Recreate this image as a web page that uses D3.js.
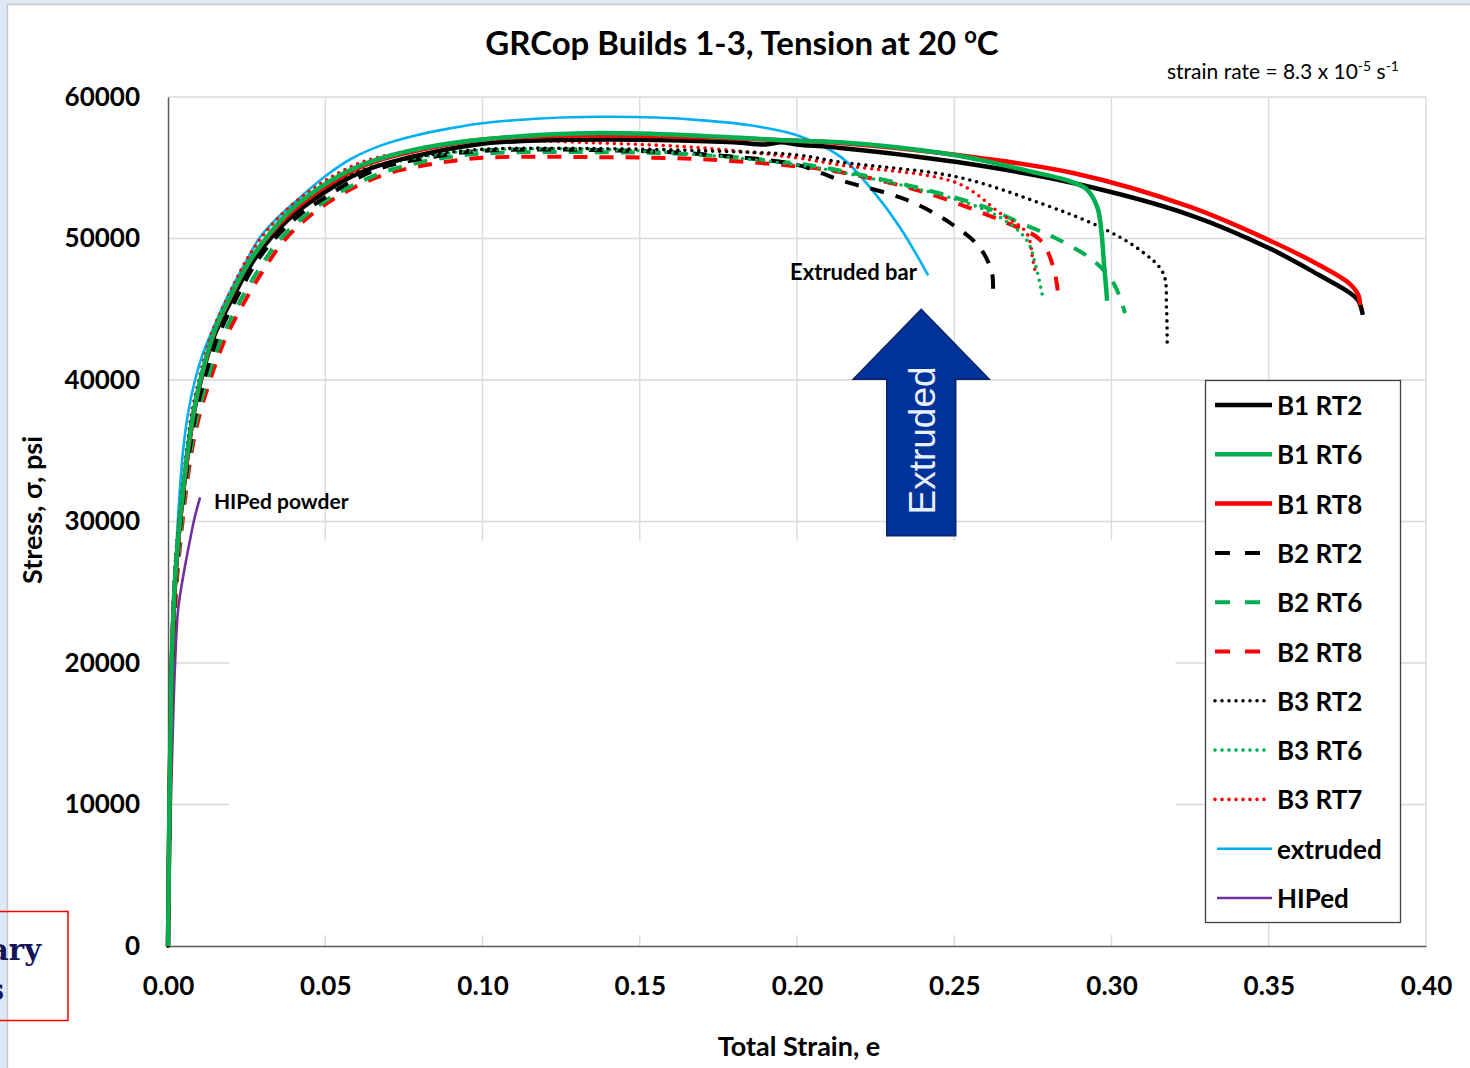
<!DOCTYPE html>
<html>
<head>
<meta charset="utf-8">
<script src="https://cdn.jsdelivr.net/npm/d3@7"></script>
<style>
  body { margin: 0; background: #dde9f5; }
  svg { display: block; }
  text { font-family: Lato, "Open Sans", sans-serif; }
</style>
</head>
<body>
<div class="chart"></div>
<script>
// strain (in/in) , stress (psi)
const b1rt2 = [[0,0],[0.0011,19000],[0.0022,25500],[0.0034,29000],[0.0064,35000],[0.0083,37800],[0.0105,40000],[0.0127,41800],[0.015,43300],[0.021,46000],[0.0265,48200],[0.0325,50000],[0.04,51700],[0.048,53000],[0.056,54100],[0.065,55000],[0.082,56000],[0.1,56700],[0.12,56950],[0.14,57000],[0.16,56950],[0.18,56800],[0.19,56650],[0.195,56800],[0.2,56650],[0.2137,56400],[0.2509,55400],[0.2878,53920],[0.325,51660],[0.35,49330],[0.366,47420],[0.3755,46200],[0.3785,45600],[0.3799,44600]];
const b1rt6 = [[0,0],[0.0011,19300],[0.0022,25800],[0.0034,29200],[0.0063,35100],[0.0082,37800],[0.0103,40000],[0.0125,41850],[0.0147,43400],[0.0205,46200],[0.026,48400],[0.0318,50200],[0.039,52000],[0.047,53400],[0.055,54500],[0.064,55400],[0.081,56400],[0.1,57000],[0.137,57450],[0.17,57250],[0.2,56900],[0.2137,56800],[0.25,55900],[0.275,54700],[0.286,54100],[0.292,53500],[0.2955,52200],[0.2968,50500],[0.2975,48500],[0.2983,46500],[0.2986,45600]];
const b1rt8 = [[0,0],[0.0011,19000],[0.0022,25500],[0.0034,29000],[0.0064,35000],[0.0083,37800],[0.0104,40000],[0.0126,41850],[0.0148,43400],[0.0207,46200],[0.026,48400],[0.032,50200],[0.0395,51900],[0.0475,53300],[0.0555,54400],[0.064,55300],[0.081,56300],[0.1,57000],[0.137,57300],[0.17,57150],[0.2,56900],[0.2137,56750],[0.2509,55900],[0.2878,54630],[0.325,52230],[0.35,49890],[0.366,48130],[0.3755,46850],[0.3785,46000],[0.379,45300]];
const b2rt2 = [[0,0],[0.0011,18500],[0.0022,25000],[0.0035,28800],[0.0067,34800],[0.0089,37700],[0.0115,40000],[0.014,41900],[0.0165,43400],[0.0225,46100],[0.028,48300],[0.034,50000],[0.042,51700],[0.05,52900],[0.058,54000],[0.068,55000],[0.085,55800],[0.1,56200],[0.137,56250],[0.17,55950],[0.2,55200],[0.2137,54130],[0.235,52720],[0.2487,51100],[0.258,49400],[0.262,47560],[0.2623,46220]];
const b2rt6 = [[0,0],[0.0011,18000],[0.0022,24500],[0.0036,28300],[0.007,34700],[0.0095,37600],[0.0125,40000],[0.0152,41900],[0.018,43400],[0.024,46000],[0.03,48200],[0.0355,49900],[0.043,51500],[0.051,52800],[0.06,53900],[0.07,54800],[0.085,55600],[0.1,56000],[0.137,56100],[0.17,55900],[0.2,55300],[0.2137,54800],[0.24,53500],[0.26,52200],[0.271,51100],[0.2815,50100],[0.294,48480],[0.3006,46860],[0.3043,44730]];
const b2rt8 = [[0,0],[0.0011,17500],[0.0023,24000],[0.0037,28000],[0.0072,34500],[0.01,37500],[0.0134,40000],[0.0162,41800],[0.019,43300],[0.025,45800],[0.031,48000],[0.0367,49800],[0.044,51400],[0.052,52700],[0.06,53700],[0.07,54600],[0.085,55300],[0.1,55700],[0.137,55750],[0.17,55600],[0.2,55100],[0.2137,54700],[0.24,53300],[0.2667,51100],[0.2773,49900],[0.2815,47990],[0.283,46150]];
const b3rt2 = [[0,0],[0.0011,19500],[0.0021,26000],[0.0033,29300],[0.0062,35200],[0.008,37900],[0.0102,40000],[0.0123,41800],[0.0145,43300],[0.0205,46000],[0.026,48300],[0.0315,50000],[0.039,51800],[0.047,53100],[0.055,54200],[0.064,55000],[0.08,55800],[0.1,56300],[0.137,56350],[0.17,56200],[0.2,55900],[0.2137,55400],[0.2509,54350],[0.2773,52500],[0.2964,50810],[0.309,49190],[0.3164,47560],[0.3175,45000],[0.3177,42500]];
const b3rt6 = [[0,0],[0.0011,19200],[0.0022,25800],[0.0034,29100],[0.0063,35000],[0.0081,37800],[0.0103,40000],[0.0125,41800],[0.0148,43300],[0.0208,46000],[0.0262,48200],[0.032,50000],[0.0395,51700],[0.0475,53000],[0.056,54100],[0.065,55000],[0.082,55800],[0.1,56250],[0.137,56300],[0.17,55900],[0.2,55200],[0.2137,54700],[0.25,52800],[0.2645,51500],[0.273,49900],[0.276,47990],[0.278,46000]];
const b3rt7 = [[0,0],[0.0011,19800],[0.0021,26300],[0.0032,29500],[0.006,35200],[0.0077,37900],[0.0098,40000],[0.0119,41850],[0.014,43400],[0.02,46300],[0.025,48500],[0.0305,50300],[0.038,52100],[0.046,53500],[0.054,54600],[0.063,55500],[0.08,56300],[0.1,56900],[0.137,56750],[0.17,56400],[0.2,55700],[0.2137,55190],[0.2509,53920],[0.2645,51800],[0.273,50390],[0.275,48480],[0.2758,47600]];
const extruded = [[0,0],[0.001,17000],[0.002,24000],[0.003,29500],[0.0048,35000],[0.0065,37800],[0.0086,40000],[0.011,41800],[0.0135,43200],[0.0188,45850],[0.024,48050],[0.0293,50100],[0.035,51500],[0.042,52900],[0.05,54400],[0.058,55600],[0.068,56600],[0.079,57300],[0.09,57800],[0.1,58150],[0.12,58500],[0.137,58600],[0.155,58550],[0.17,58350],[0.185,58000],[0.2,57300],[0.214,55750],[0.224,53400],[0.2327,50800],[0.2417,47400]];
const hiped = [[0,0],[0.0004,5000],[0.0009,10000],[0.0015,15000],[0.0022,19700],[0.0032,23750],[0.0048,26100],[0.007,28700],[0.0085,30300],[0.0102,31700]];

const seriesNames = ["B1 RT2", "B1 RT6", "B1 RT8", "B2 RT2", "B2 RT6", "B2 RT8", "B3 RT2", "B3 RT6", "B3 RT7", "extruded", "HIPed"];
const seriesData = [b1rt2, b1rt6, b1rt8, b2rt2, b2rt6, b2rt8, b3rt2, b3rt6, b3rt7, extruded, hiped];
const xTicks = [0, 0.05, 0.10, 0.15, 0.20, 0.25, 0.30, 0.35, 0.40];
const yTicks = [0, 10000, 20000, 30000, 40000, 50000, 60000];

// line looks per series
const black = "#000000", green = "#00b050", red = "#ff0000";
const styles = [
  { c: black, w: 4.5, d: null },
  { c: green, w: 4.5, d: null },
  { c: red, w: 4.5, d: null },
  { c: black, w: 4, d: "14,12" },
  { c: green, w: 4, d: "14,12" },
  { c: red, w: 4, d: "14,12" },
  { c: black, w: 3.6, d: "0,7" },
  { c: green, w: 3.6, d: "0,7" },
  { c: red, w: 3.6, d: "0,7" },
  { c: "#00b0f0", w: 2.6, d: null },
  { c: "#7030a0", w: 2.6, d: null }
];

const width = 1470, height = 1068;
const margin = { top: 97, right: 44, bottom: 122, left: 168 };

const svg = d3.select(".chart").append("svg")
  .attr("width", width)
  .attr("height", height);

// slide page
svg.append("rect")
  .attr("x", 7.5).attr("y", 4.5)
  .attr("width", width).attr("height", height)
  .attr("fill", "#ffffff")
  .attr("stroke", "#c9c9c9")
  .attr("stroke-width", 1.5);

const x = d3.scaleLinear().domain([0, 0.4]).range([margin.left, width - margin.right]);
const y = d3.scaleLinear().domain([0, 60000]).range([height - margin.bottom, margin.top]);

// gridlines
const grid = svg.append("g").attr("stroke", "#d9d9d9").attr("stroke-width", 1.3);
grid.selectAll(".gy").data(yTicks.slice(1)).join("line")
  .attr("x1", x(0)).attr("x2", x(0.4))
  .attr("y1", d => y(d)).attr("y2", d => y(d));
grid.selectAll(".gx").data(xTicks.slice(1)).join("line")
  .attr("x1", d => x(d)).attr("x2", d => x(d))
  .attr("y1", y(0)).attr("y2", y(60000));

// white patch hiding part of the grid (as in the slide)
svg.append("rect")
  .attr("x", x(0.0195)).attr("y", y(28650))
  .attr("width", x(0.3203) - x(0.0195))
  .attr("height", y(780) - y(28650))
  .attr("fill", "#ffffff");

// axes
svg.append("g")
  .attr("transform", `translate(0,${y(0)})`)
  .call(d3.axisBottom(x).tickValues(xTicks).tickFormat(d3.format(".2f")).tickSize(0).tickPadding(31))
  .call(g => g.select(".domain").attr("stroke", "#595959").attr("stroke-width", 1.5))
  .selectAll("text")
  .attr("fill", "#000").style("font-size", "26px").style("font-weight", "bold");

svg.append("g")
  .attr("transform", `translate(${x(0)},0)`)
  .call(d3.axisLeft(y).tickValues(yTicks).tickFormat(d3.format("d")).tickSize(0).tickPadding(28))
  .call(g => g.select(".domain").attr("stroke", "#595959").attr("stroke-width", 1.5))
  .selectAll("text")
  .attr("fill", "#000").style("font-size", "26px").style("font-weight", "bold");

// curves
const line = d3.line()
  .x(d => x(d[0]))
  .y(d => y(d[1]))
  .curve(d3.curveCatmullRom.alpha(0.5));

const order = [10, 9, 5, 4, 3, 8, 7, 6, 0, 2, 1];
svg.append("g")
  .attr("fill", "none")
  .selectAll("path")
  .data(order)
  .join("path")
  .attr("d", i => line(seriesData[i]))
  .attr("stroke", i => styles[i].c)
  .attr("stroke-width", i => styles[i].w)
  .attr("stroke-dasharray", i => styles[i].d)
  .attr("stroke-linecap", i => styles[i].d === "0,7" ? "round" : "butt")
  .attr("stroke-linejoin", "round");

// title
const title = svg.append("text")
  .attr("x", 742).attr("y", 55)
  .attr("text-anchor", "middle")
  .style("font-size", "33px").style("font-weight", "bold")
  .attr("fill", "#000");
title.append("tspan").text("GRCop Builds 1-3, Tension at 20 ");
title.append("tspan").text("o").attr("dy", -12).style("font-size", "22px");
title.append("tspan").text("C").attr("dy", 12);

const rate = svg.append("text")
  .attr("x", 1167).attr("y", 79)
  .style("font-size", "21px")
  .attr("fill", "#000");
rate.append("tspan").text("strain rate = 8.3 x 10");
rate.append("tspan").text("-5").attr("dy", -8).style("font-size", "14px");
rate.append("tspan").text(" s").attr("dy", 8);
rate.append("tspan").text("-1").attr("dy", -8).style("font-size", "14px");

// axis titles
svg.append("text")
  .attr("x", 799).attr("y", 1056)
  .attr("text-anchor", "middle")
  .style("font-size", "27px").style("font-weight", "bold")
  .text("Total Strain, e");

svg.append("text")
  .attr("transform", "translate(42,510) rotate(-90)")
  .attr("text-anchor", "middle")
  .style("font-size", "27px").style("font-weight", "bold")
  .text("Stress, σ, psi");

// annotations
svg.append("text")
  .attr("x", x(0.1978)).attr("y", y(47050))
  .style("font-size", "22px").style("font-weight", "bold")
  .text("Extruded bar");

svg.append("text")
  .attr("x", x(0.0146)).attr("y", y(30880))
  .style("font-size", "21px").style("font-weight", "bold")
  .text("HIPed powder");

// arrow
const ax = x(0.2395), hw = 68, sw = 34.5;
const aTop = y(45000), aNeck = y(40050), aBot = y(29000);
svg.append("path")
  .attr("d", `M${ax},${aTop}L${ax + hw},${aNeck}H${ax + sw}V${aBot}H${ax - sw}V${aNeck}H${ax - hw}Z`)
  .attr("fill", "#003399")
  .attr("stroke", "#0b2466")
  .attr("stroke-width", 1.5);
svg.append("text")
  .attr("transform", `translate(${ax + 1},${(aNeck + aBot) / 2 - 17}) rotate(-90)`)
  .attr("text-anchor", "middle")
  .attr("dominant-baseline", "central")
  .style("font-family", "'Liberation Sans', Arial, sans-serif")
  .style("font-size", "37px")
  .attr("fill", "#e8efff")
  .text("Extruded");

// legend
const lg = svg.append("g");
lg.append("rect")
  .attr("x", 1205.5).attr("y", 380.5)
  .attr("width", 195).attr("height", 542)
  .attr("fill", "#fff")
  .attr("stroke", "#404040")
  .attr("stroke-width", 1.3);
const row = lg.selectAll(".row")
  .data(seriesNames)
  .join("g")
  .attr("transform", (d, i) => `translate(0,${405 + i * 49.3})`);
row.append("line")
  .attr("x1", (d, i) => i >= 9 ? 1217 : 1215)
  .attr("x2", (d, i) => styles[i].d === "14,12" ? 1262 : (styles[i].d ? 1268 : 1272))
  .attr("stroke", (d, i) => styles[i].c)
  .attr("stroke-width", (d, i) => styles[i].w)
  .attr("stroke-dasharray", (d, i) => styles[i].d === "0,7" ? "0,7" : (styles[i].d ? "15,15" : null))
  .attr("stroke-linecap", (d, i) => styles[i].d === "0,7" ? "round" : "butt");
row.append("text")
  .attr("x", 1277).attr("y", 0)
  .attr("dominant-baseline", "central")
  .style("font-size", "26px").style("font-weight", "bold")
  .text(d => d);

// cut-off stamp at bottom left
svg.append("rect")
  .attr("x", -2).attr("y", 911.5)
  .attr("width", 70).attr("height", 109)
  .attr("fill", "none")
  .attr("stroke", "#ff0000")
  .attr("stroke-width", 1.5);
svg.append("text")
  .attr("x", 41).attr("y", 960)
  .attr("text-anchor", "end")
  .style("font-family", "'DejaVu Serif', serif")
  .style("font-size", "29px").style("font-weight", "900")
  .attr("fill", "#14145a")
  .text("Preliminary");
svg.append("text")
  .attr("x", 4).attr("y", 1000)
  .attr("text-anchor", "end")
  .style("font-family", "'DejaVu Serif', serif")
  .style("font-size", "29px").style("font-weight", "900")
  .attr("fill", "#14145a")
  .text("Results");
</script>
</body>
</html>
